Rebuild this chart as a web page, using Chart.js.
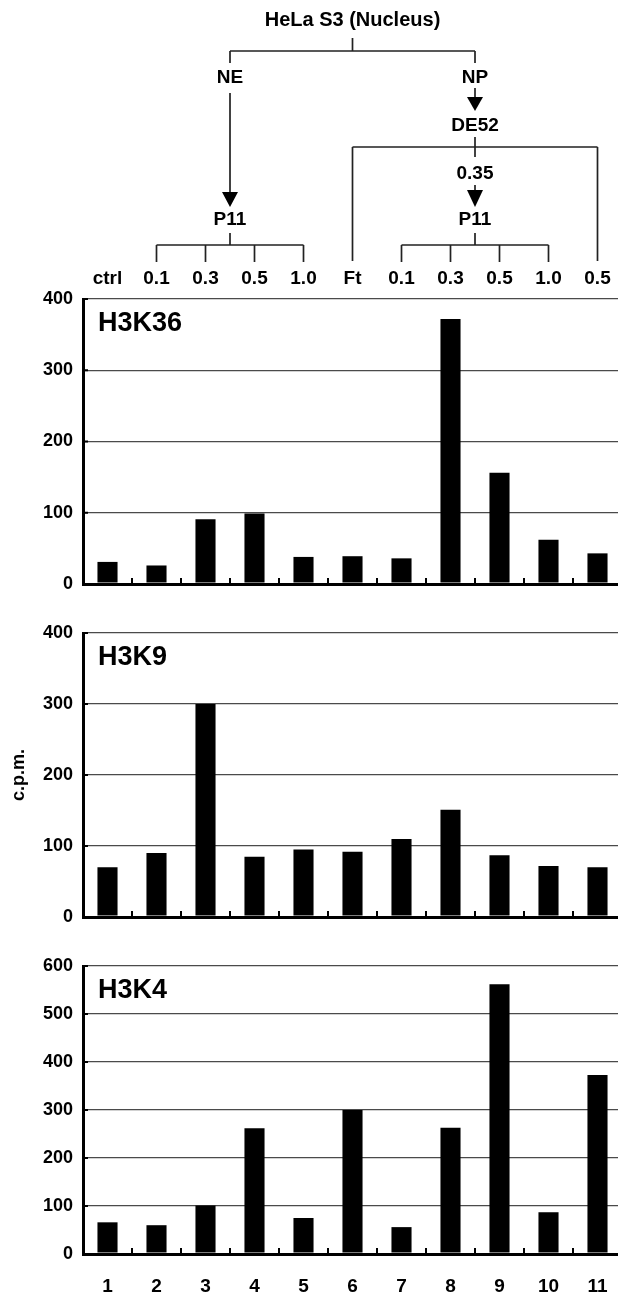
<!DOCTYPE html>
<html>
<head>
<meta charset="utf-8">
<script src="https://cdn.jsdelivr.net/npm/chart.js@4.4.0/dist/chart.umd.min.js"></script>
<style>
html, body { margin: 0; padding: 0; background: #fff; overflow: hidden; width: 618px; height: 1297px; }
.panel { position: absolute; left: 0; }
</style>
</head>
<body>
<div class="panel" style="top:0px"><canvas id="chartK36" width="622" height="600"></canvas></div>
<div class="panel" style="top:600px"><canvas id="chartK9" width="622" height="335"></canvas></div>
<div class="panel" style="top:935px"><canvas id="chartK4" width="622" height="362"></canvas></div>
<script>
// fraction labels (top) and lane numbers (bottom)
const fractionLabels = ['ctrl', '0.1', '0.3', '0.5', '1.0', 'Ft', '0.1', '0.3', '0.5', '1.0', '0.5'];
const laneLabels = ['1', '2', '3', '4', '5', '6', '7', '8', '9', '10', '11'];

// c.p.m. per lane
const h3k36 = [31, 26, 91, 99, 38, 39, 36, 372, 156, 62, 43];
const h3k9 = [70, 90, 300, 85, 95, 92, 110, 151, 87, 72, 70];
const h3k4 = [66, 60, 101, 262, 75, 300, 56, 263, 562, 87, 373];

const FONT = '"Liberation Sans", Arial, sans-serif';

// small inward ticks + panel name
const inwardTicks = {
    id: 'inwardTicks',
    afterDatasetsDraw(chart, args, opts) {
        const { ctx, chartArea, scales: { x, y } } = chart;
        ctx.save();
        ctx.strokeStyle = '#000';
        ctx.lineWidth = 2;
        ctx.beginPath();
        for (let i = 1; i < x.ticks.length; i++) {
            const px = Math.round((x.getPixelForValue(i - 1) + x.getPixelForValue(i)) / 2);
            ctx.moveTo(px, chartArea.bottom);
            ctx.lineTo(px, chartArea.bottom - 6);
        }
        y.ticks.forEach(t => {
            const py = y.getPixelForValue(t.value);
            ctx.moveTo(chartArea.left, py);
            ctx.lineTo(chartArea.left + 5, py);
        });
        ctx.stroke();
        ctx.fillStyle = '#000';
        ctx.font = 'bold 27px ' + FONT;
        ctx.textBaseline = 'middle';
        ctx.fillText(opts.name, chartArea.left + 15, chartArea.top + 25);
        ctx.restore();
    }
};

// fractionation scheme above the first panel
const treePlugin = {
    id: 'tree',
    afterDraw(chart) {
        const { ctx, scales: { x } } = chart;
        const cx = i => x.getPixelForValue(i);
        const neX = (cx(1) + cx(4)) / 2;
        const npX = (cx(6) + cx(9)) / 2;
        const topX = (neX + npX) / 2;

        const line = (x1, y1, x2, y2) => { ctx.moveTo(x1, y1); ctx.lineTo(x2, y2); };
        const arrowHead = (px, y1, y2) => {
            ctx.beginPath();
            ctx.moveTo(px - 8, y1);
            ctx.lineTo(px + 8, y1);
            ctx.lineTo(px, y2);
            ctx.closePath();
            ctx.fill();
        };
        const label = (txt, px, py, size) => {
            ctx.font = 'bold ' + (size || 19) + 'px ' + FONT;
            ctx.fillText(txt, px, py);
        };

        ctx.save();
        ctx.strokeStyle = '#222';
        ctx.fillStyle = '#000';
        ctx.lineWidth = 1.7;
        ctx.textAlign = 'center';
        ctx.textBaseline = 'middle';

        ctx.beginPath();
        line(topX, 38, topX, 51);
        line(neX, 51, npX, 51);
        line(neX, 51, neX, 63);
        line(npX, 51, npX, 63);
        // NE -> P11
        line(neX, 93, neX, 193);
        // NP -> DE52
        line(npX, 88, npX, 98);
        // DE52 bracket
        line(npX, 137, npX, 157);
        line(cx(5), 147, cx(10), 147);
        line(cx(5), 147, cx(5), 261);
        line(cx(10), 147, cx(10), 261);
        // 0.35 -> P11
        line(npX, 185, npX, 191);
        // P11 brackets
        [[1, 4, neX], [6, 9, npX]].forEach(([a, b, mid]) => {
            line(mid, 233, mid, 245);
            line(cx(a), 245, cx(b), 245);
            for (let i = a; i <= b; i++) line(cx(i), 245, cx(i), 262);
        });
        ctx.stroke();

        arrowHead(neX, 192, 207);
        arrowHead(npX, 97, 111);
        arrowHead(npX, 190, 207);

        label('HeLa S3 (Nucleus)', topX, 20, 20);
        label('NE', neX, 78);
        label('NP', npX, 78);
        label('DE52', npX, 126);
        label('0.35', npX, 174);
        label('P11', neX, 220);
        label('P11', npX, 220);
        ctx.restore();
    }
};

function makeChart(id, values, max, name, opts) {
    const config = {
        type: 'bar',
        data: {
            labels: opts.labels,
            datasets: [{
                data: values,
                backgroundColor: '#000',
                borderWidth: 0,
                barPercentage: 0.41,
                categoryPercentage: 1
            }]
        },
        options: {
            responsive: false,
            animation: false,
            devicePixelRatio: 1,
            layout: {
                padding: { top: opts.padTop, bottom: opts.padBottom, left: 0, right: 0 }
            },
            plugins: {
                legend: { display: false },
                tooltip: { enabled: false },
                inwardTicks: { name: name }
            },
            scales: {
                x: {
                    display: opts.xDisplay,
                    position: opts.xPosition,
                    grid: { display: false, drawTicks: false },
                    border: { display: false },
                    ticks: {
                        color: '#000',
                        padding: opts.xPad,
                        maxRotation: 0,
                        autoSkip: false,
                        font: { family: FONT, size: 19, weight: 'bold' }
                    },
                    afterFit(scale) {
                        scale.height = opts.xHeight;
                        scale.paddingLeft = 0;
                        scale.paddingRight = 0;
                    }
                },
                y: {
                    min: 0,
                    max: max,
                    ticks: {
                        stepSize: 100,
                        color: '#000',
                        padding: 10,
                        font: { family: FONT, size: 18, weight: 'bold' }
                    },
                    grid: {
                        drawTicks: false,
                        color: c => c.tick && c.tick.value === 0 ? '#000' : '#4a4a4a',
                        lineWidth: c => c.tick && c.tick.value === 0 ? 3 : 1.2
                    },
                    border: { color: '#000', width: 3 },
                    title: {
                        display: !!opts.yTitle,
                        text: opts.yTitle || '',
                        color: '#000',
                        padding: { top: 8, bottom: 0 },
                        font: { family: FONT, size: 18, weight: 'bold' }
                    },
                    afterFit(scale) {
                        scale.width = 83;
                        scale.paddingTop = 0;
                        scale.paddingBottom = 0;
                    }
                }
            }
        },
        plugins: [inwardTicks].concat(opts.extra || [])
    };
    return new Chart(document.getElementById(id), config);
}

makeChart('chartK36', h3k36, 400, 'H3K36', {
    labels: fractionLabels, xDisplay: true, xPosition: 'top', xPad: 9, xHeight: 40,
    padTop: 259, padBottom: 16, extra: [treePlugin]
});

makeChart('chartK9', h3k9, 400, 'H3K9', {
    labels: laneLabels, xDisplay: false, xPosition: 'bottom', xPad: 0, xHeight: 0,
    padTop: 33, padBottom: 18, yTitle: 'c.p.m.'
});

makeChart('chartK4', h3k4, 600, 'H3K4', {
    labels: laneLabels, xDisplay: true, xPosition: 'bottom', xPad: 21, xHeight: 43,
    padTop: 31, padBottom: 0
});
</script>
</body>
</html>
